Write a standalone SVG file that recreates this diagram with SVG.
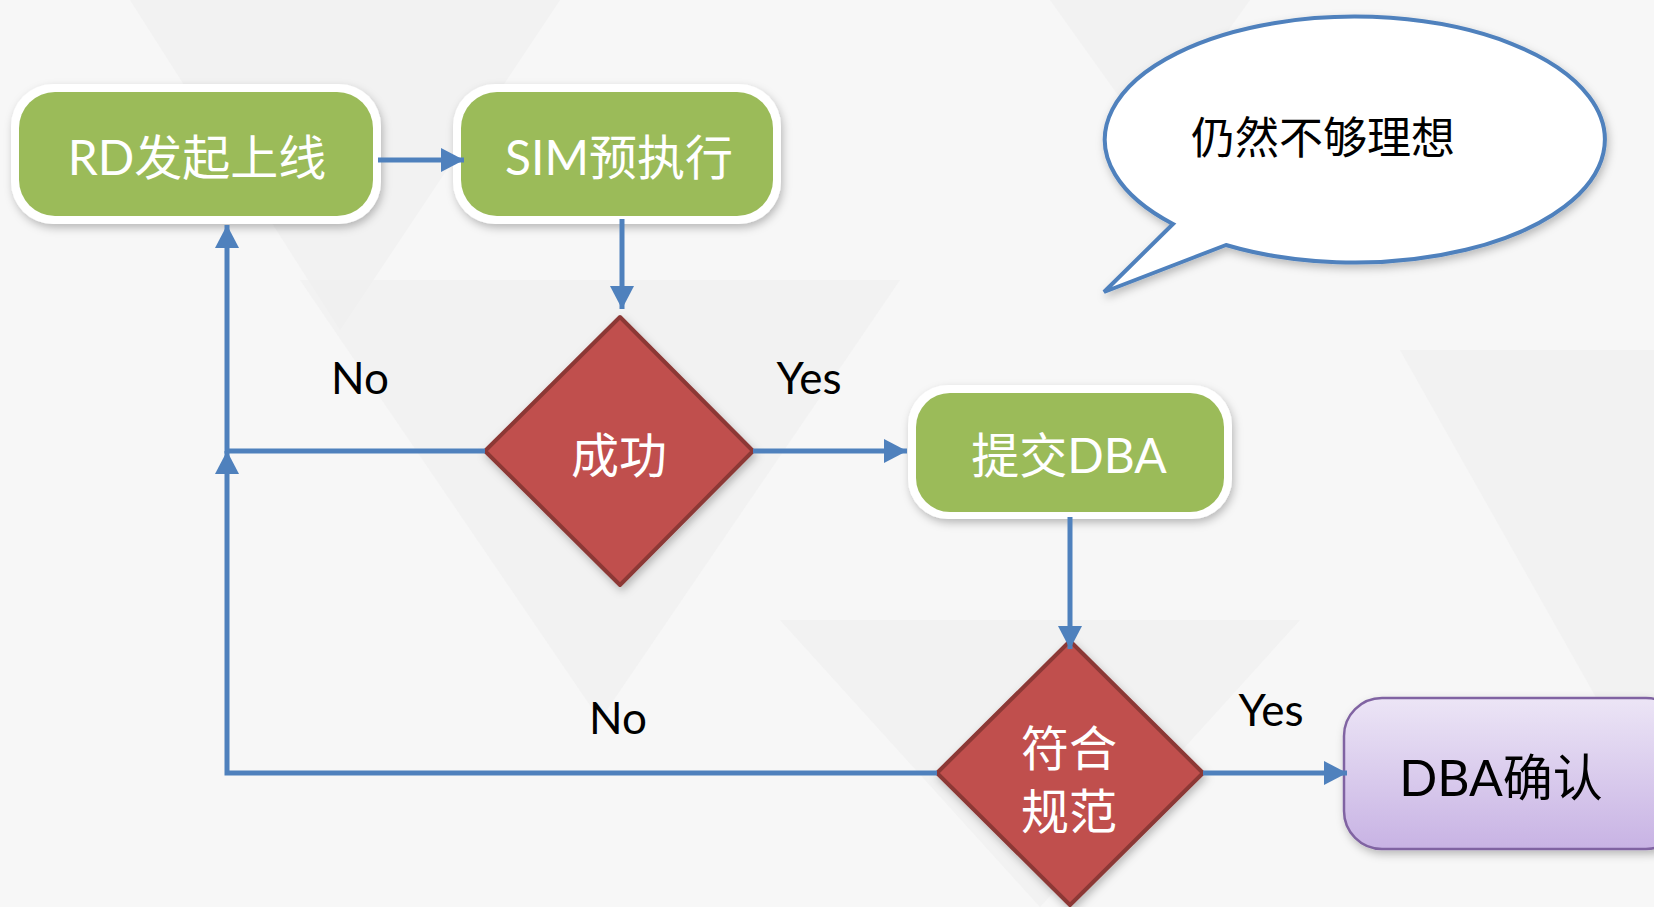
<svg xmlns="http://www.w3.org/2000/svg" width="1654" height="907" viewBox="0 0 1654 907">
<defs>
<style>
.bg{fill:#f7f7f7}
.tri{fill:#eeeeee;opacity:0.5}
.outer{fill:#ffffff;filter:url(#sh)}
.green{fill:#9bbb59}
.dia{fill:#c0504d;stroke:#8c3836;stroke-width:4;stroke-linejoin:round;filter:url(#sh)}
.wt{fill:#ffffff;font-family:"Lato","Noto Sans CJK SC",sans-serif;font-size:48px;text-anchor:middle;dominant-baseline:central}
.bt{fill:#000000;font-family:"Lato","Noto Sans CJK SC",sans-serif;font-size:44px;text-anchor:middle;dominant-baseline:central}
.big{font-size:50px}
.conn{stroke:#4f81bd;stroke-width:5;fill:none}
</style>
<filter id="sh" x="-20%" y="-20%" width="140%" height="140%">
<feDropShadow dx="2" dy="4" stdDeviation="4" flood-color="#000" flood-opacity="0.25"/>
</filter>
<linearGradient id="pg" x1="0" y1="0" x2="0" y2="1">
<stop offset="0" stop-color="#ece5f6"/>
<stop offset="1" stop-color="#c8b3e4"/>
</linearGradient>
<marker id="ah" markerWidth="26" markerHeight="26" refX="23" refY="12" orient="auto" markerUnits="userSpaceOnUse">
<path d="M0,0 L23,12 L0,24 Z" fill="#4f81bd"/>
</marker>
</defs>
<rect class="bg" x="0" y="0" width="1654" height="907"/>
<polygon class="tri" points="130,0 560,0 340,330"/>
<polygon class="tri" points="300,280 900,280 600,720"/>
<polygon class="tri" points="780,620 1300,620 1040,907"/>
<polygon class="tri" points="1400,350 1654,350 1654,800"/>
<polygon class="tri" points="1050,0 1250,0 1150,140"/>
<g id="node-rd">
<rect class="outer" x="11" y="84" width="370" height="140" rx="42"/>
<rect class="green" x="19" y="92" width="354" height="124" rx="36"/>
<text class="wt" x="197" y="156">RD发起上线</text>
</g>
<g id="node-sim">
<rect class="outer" x="453" y="84" width="328" height="140" rx="42"/>
<rect class="green" x="461" y="92" width="312" height="124" rx="36"/>
<text class="wt" x="619" y="156">SIM预执行</text>
</g>
<g id="node-success">
<polygon class="dia" points="620,317 753,451 620,585 485,451"/>
<text class="wt" x="619" y="454">成功</text>
</g>
<g id="node-submit">
<rect class="outer" x="908" y="385" width="324" height="134" rx="40"/>
<rect class="green" x="916" y="393" width="308" height="119" rx="34"/>
<text class="wt" x="1069" y="454">提交DBA</text>
</g>
<g id="node-compliant">
<polygon class="dia" points="1070,641 1203,773 1070,905 937,773"/>
<text class="wt" x="1069" y="747">符合</text>
<text class="wt" x="1069" y="810">规范</text>
</g>
<g id="node-dbaconfirm">
<rect x="1344" y="698" width="340" height="151" rx="38" fill="url(#pg)" stroke="#8064a2" stroke-width="2.5" filter="url(#sh)"/>
<text class="bt big" x="1501" y="777">DBA确认</text>
</g>
<g id="labels">
<text class="bt" x="360" y="377">No</text>
<text class="bt" x="809" y="377">Yes</text>
<text class="bt" x="618" y="717">No</text>
<text class="bt" x="1271" y="709">Yes</text>
</g>
<g id="node-bubble">
<path d="M1173,224 A250,123 0 1 1 1226,245 L1104,292 Z" fill="#ffffff" stroke="#4f81bd" stroke-width="4" stroke-linejoin="miter" filter="url(#sh)"/>
<text class="bt" x="1323" y="137">仍然不够理想</text>
</g>
<g id="connectors">
<line class="conn" x1="378" y1="160" x2="464" y2="160" marker-end="url(#ah)"/>
<line class="conn" x1="622" y1="219" x2="622" y2="309" marker-end="url(#ah)"/>
<line class="conn" x1="753" y1="451" x2="907" y2="451" marker-end="url(#ah)"/>
<line class="conn" x1="1070" y1="517" x2="1070" y2="649" marker-end="url(#ah)"/>
<line class="conn" x1="1203" y1="773" x2="1347" y2="773" marker-end="url(#ah)"/>
<polyline class="conn" points="485,451 227,451 227,225" marker-end="url(#ah)"/>
<polyline class="conn" points="937,773 227,773 227,451" marker-end="url(#ah)"/>
</g>
</svg>
